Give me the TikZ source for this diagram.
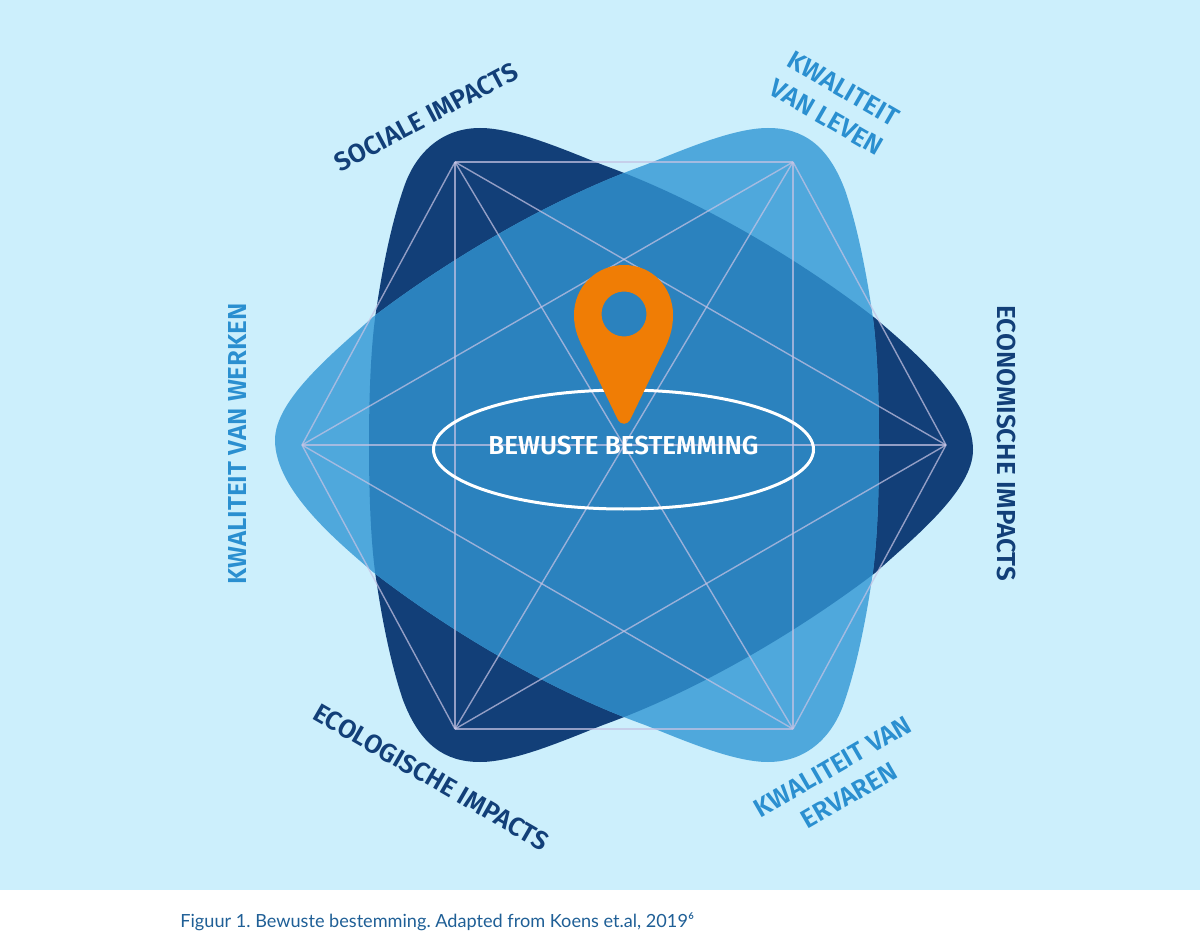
\documentclass[tikz,border=0pt]{standalone}
\usepackage{fontspec}
\setmainfont[BoldFont={Fira Sans SemiBold}]{Fira Sans}
\newfontfamily\capfont{Lato}
\usetikzlibrary{
  positioning,
  shapes.geometric
}
\definecolor{SkyBack}{RGB}{204,239,252}
\definecolor{NavyBlob}{RGB}{18,63,120}
\definecolor{LightBlob}{RGB}{79,168,220}
\definecolor{MidBlob}{RGB}{43,130,190}
\definecolor{NetLilac}{RGB}{197,195,228}
\definecolor{PinOrange}{RGB}{240,125,5}
\definecolor{LabelBlue}{RGB}{42,143,208}
\definecolor{CaptionBlue}{RGB}{31,95,150}
\tikzset{
  netline/.style={draw=NetLilac,line width=.7pt,draw opacity=.72},
  navylabel/.style={text=NavyBlob,font=\bfseries\fontsize{13}{16.5}\selectfont,align=center},
  bluelabel/.style={text=LabelBlue,font=\bfseries\fontsize{13}{16.5}\selectfont,align=center},
  turned/.style={shift={(1248,890)},xscale=-1,yscale=-1}
}
\def\blobpath{(369,445) .. controls (369,380) and (372,335) .. (377,305)
  .. controls (383,265) and (392,222) .. (403,190)
  .. controls (414,155) and (440,128) .. (480,128)
  .. controls (515,128) and (565,150) .. (603,165)
  .. controls (700,200) and (800,260) .. (875,318)
  .. controls (910,348) and (973,400) .. (973,450)
  .. controls (973,490) and (915,537) .. (875,573)
  .. controls (800,630) and (700,690) .. (603,725)
  .. controls (565,740) and (515,762) .. (480,762)
  .. controls (445,762) and (420,745) .. (403,700)
  .. controls (392,668) and (383,625) .. (377,585)
  .. controls (372,555) and (369,510) .. (369,445) -- cycle}
\begin{document}
\begin{tikzpicture}[x=.5pt,y=-.5pt]
\useasboundingbox (0,0) rectangle (1200,941);
\fill[SkyBack] (0,0) rectangle (1200,890);

\fill[NavyBlob] \blobpath;
\fill[LightBlob,turned] \blobpath;
\begin{scope}
\clip \blobpath;
\fill[MidBlob,turned] \blobpath;
\end{scope}

\coordinate (tl) at (455,162);
\coordinate (tr) at (793,162);
\coordinate (ri) at (946,445);
\coordinate (br) at (793,729);
\coordinate (bl) at (455,729);
\coordinate (le) at (302,445);
\foreach \from/\to in {tl/tr,tl/ri,tl/br,tl/bl,tl/le,tr/ri,tr/br,tr/bl,tr/le,ri/br,ri/bl,ri/le,br/bl,br/le,bl/le}
  \draw[netline] (\from) -- (\to);

\node[ellipse,draw=white,line width=1.5pt,minimum width=190pt,minimum height=59.5pt,inner sep=0pt] (dest) at (623.5,449.5) {};
\node[text=white,font=\bfseries\fontsize{13}{15}\selectfont] (destlabel) at (623.5,446) {BEWUSTE BESTEMMING};

\fill[PinOrange,even odd rule] (624,265) .. controls (596,265) and (574,287) .. (574,315)
  .. controls (574,330) and (579,340) .. (585,352)
  -- (618,420) .. controls (621,425) and (627,425) .. (630,420)
  -- (663,352) .. controls (669,340) and (673,330) .. (673,315)
  .. controls (673,287) and (652,265) .. (624,265) -- cycle
  (646.5,314) .. controls (646.5,301.5) and (636.5,291.5) .. (624,291.5)
  .. controls (611.5,291.5) and (601.5,301.5) .. (601.5,314)
  .. controls (601.5,326.5) and (611.5,336.5) .. (624,336.5)
  .. controls (636.5,336.5) and (646.5,326.5) .. (646.5,314) -- cycle;

\node[navylabel,rotate=28] (sociaal) at (426,117) {SOCIALE IMPACTS};
\node[bluelabel,rotate=-30] (leven) at (835,103) {KWALITEIT\\VAN LEVEN};
\node[navylabel,rotate=-90] (econ) at (1006,443) {ECONOMISCHE IMPACTS};
\node[bluelabel,rotate=90] (werken) at (238,444) {KWALITEIT VAN WERKEN};
\node[navylabel,rotate=-30] (eco) at (431,777) {ECOLOGISCHE IMPACTS};
\node[bluelabel,rotate=30] (ervaren) at (841,781) {KWALITEIT VAN\\ERVAREN};

\node[anchor=west,inner sep=0pt,text=CaptionBlue,font=\capfont\frenchspacing\fontsize{9.06}{11}\selectfont] (caption) at (180,922) {Figuur 1. Bewuste bestemming. Adapted from Koens et.al, 2019⁶};
\end{tikzpicture}
\end{document}
